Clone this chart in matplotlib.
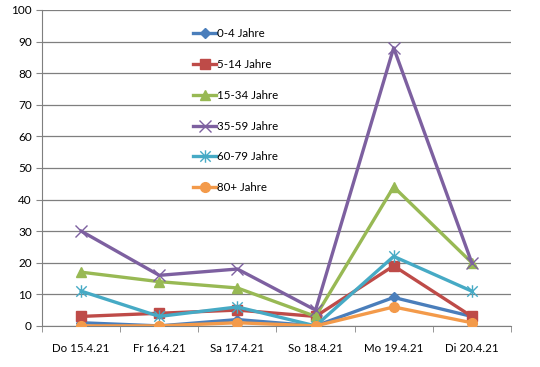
import matplotlib
matplotlib.use("Agg")
import matplotlib.pyplot as plt
from matplotlib.path import Path
import numpy as np

plt.rcParams['font.family'] = ['Lato', 'DejaVu Sans']

# Daten
days = ["Do 15.4.21", "Fr 16.4.21", "Sa 17.4.21", "So 18.4.21", "Mo 19.4.21", "Di 20.4.21"]
labels = ["0-4 Jahre", "5-14 Jahre", "15-34 Jahre", "35-59 Jahre", "60-79 Jahre", "80+ Jahre"]
age_0_4 = [1, 0, 2, 0, 9, 3]
age_5_14 = [3, 4, 5, 3, 19, 3]
age_15_34 = [17, 14, 12, 3, 44, 20]
age_35_59 = [30, 16, 18, 5, 88, 20]
age_60_79 = [11, 3, 6, 0, 22, 11]
age_80 = [0, 0, 1, 0, 6, 1]

series = [age_0_4, age_5_14, age_15_34, age_35_59, age_60_79, age_80]
colors = ["#4A7EBB", "#BE4B48", "#98B954", "#7D60A0", "#46AAC5", "#F39A4A"]

# Excel-Stern: x plus senkrechter Strich
star = Path([(-1, -1), (1, 1), (-1, 1), (1, -1), (0, -1.2), (0, 1.2)],
            [Path.MOVETO, Path.LINETO, Path.MOVETO, Path.LINETO, Path.MOVETO, Path.LINETO])
markers = ["D", "s", "^", "x", star, "o"]
msizes = [5, 7, 7, 8, 9, 7]

fig = plt.figure(figsize=(5.4, 3.67), dpi=100, facecolor='w')
ax = fig.add_axes([0.078, 0.112, 0.868, 0.861])

x = np.arange(len(days))
for vals, lab, c, m, ms in zip(series, labels, colors, markers, msizes):
    ax.plot(x, vals, color=c, lw=2.4, marker=m, ms=ms, mec=c, mfc=c,
            mew=1.0, label=lab, zorder=3)

ax.set_xlim(-0.5, len(days) - 0.5)
ax.set_ylim(0, 100)
ax.set_yticks(range(0, 101, 10))
ax.set_xticks(x)
ax.set_xticklabels(days)
ax.set_xticks(np.arange(-0.5, len(days), 1.0), minor=True)
ax.tick_params(axis='x', which='major', length=0, pad=12, labelsize=8.3)
ax.tick_params(axis='x', which='minor', length=4, color='#868686', direction='out')
ax.tick_params(axis='y', length=4, color='#868686', labelsize=8.5)

ax.grid(axis='y', color='#7f7f7f', lw=0.9)
ax.set_axisbelow(True)
for s in ("top", "right"):
    ax.spines[s].set_visible(False)
ax.spines["left"].set_color('#7f7f7f')
ax.spines["bottom"].set_color('#7f7f7f')

leg = ax.legend(loc='upper left', bbox_to_anchor=(0.3, 0.975), frameon=False,
                labelspacing=1.72, handlelength=2.0, handletextpad=0.1, fontsize=8.3)

fig.savefig("out.png", dpi=100)
